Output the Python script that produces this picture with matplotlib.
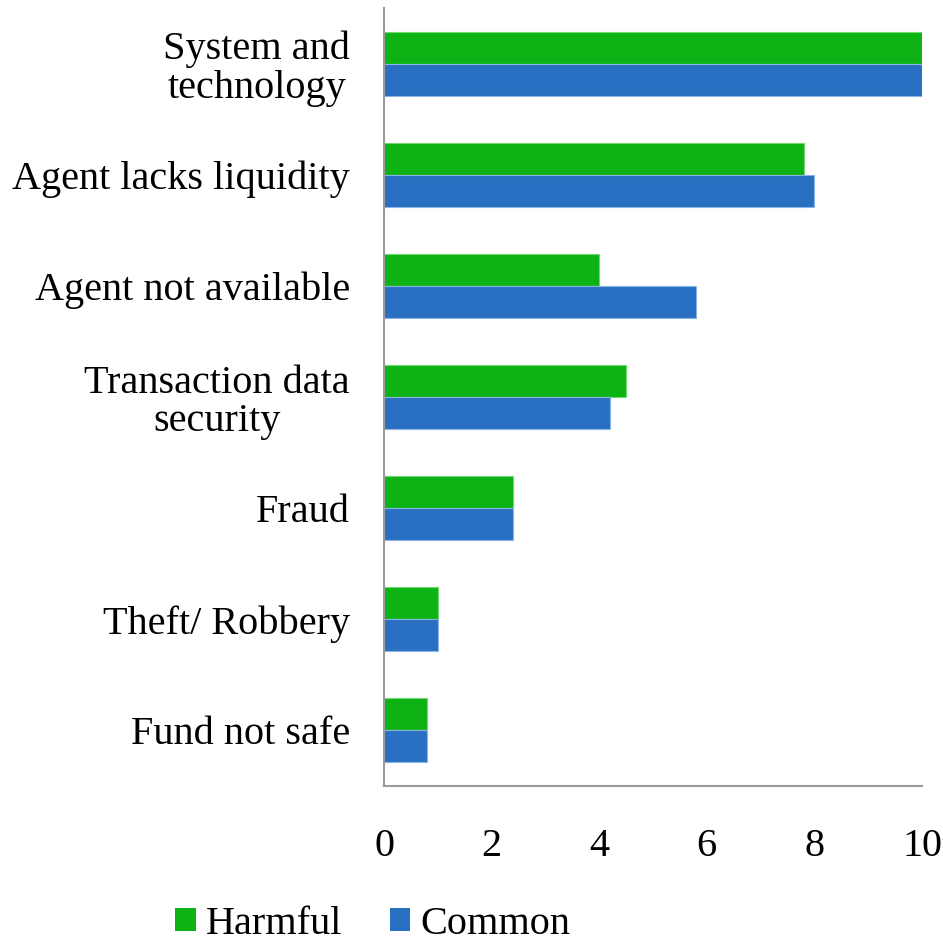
import matplotlib
matplotlib.use("Agg")
import matplotlib.pyplot as plt
import numpy as np
from matplotlib.patches import Patch

categories = ["System and\ntechnology", "Agent lacks liquidity", "Agent not available",
              "Transaction data\nsecurity", "Fraud", "Theft/ Robbery", "Fund not safe"]
harmful = [10, 7.8, 4.0, 4.5, 2.4, 1.0, 0.8]
common = [10, 8.0, 5.8, 4.2, 2.4, 1.0, 0.8]
xticks = [0, 2, 4, 6, 8, 10]

GREEN = "#0db214"
BLUE = "#2a70c2"
AXIS = "#9a9a9a"

plt.rcParams["font.family"] = ["Liberation Serif", "DejaVu Serif"]
fs = 29

fig = plt.figure(figsize=(9.43, 9.43), dpi=100)
ax = fig.add_axes([384 / 943, 1 - 786 / 943, (922 - 384) / 943, (786 - 8) / 943])

y = np.arange(len(categories))
h = 0.288
ax.barh(y - h / 2, harmful, height=h, color=GREEN, edgecolor="#6fd870", linewidth=0.8)
ax.barh(y + h / 2, common, height=h, color=BLUE, edgecolor="#8ab4e6", linewidth=0.8)

ax.set_ylim(len(categories) - 0.5, -0.5)
ax.set_xlim(0, 10)
ax.set_yticks(y)
ax.set_yticklabels(categories, fontsize=fs, multialignment="center", linespacing=1.05)
ax.set_xticks(xticks)
ax.set_xticklabels([str(t) for t in xticks], fontsize=fs)
ax.tick_params(axis="y", length=0, pad=24.5)
ax.tick_params(axis="x", length=0, pad=30)

for s in ["top", "right"]:
    ax.spines[s].set_visible(False)
for s in ["left", "bottom"]:
    ax.spines[s].set_color(AXIS)
    ax.spines[s].set_linewidth(1.5)

handles = [Patch(facecolor=GREEN, label="Harmful"), Patch(facecolor=BLUE, label="Common")]
fig.legend(handles=handles, loc="center", bbox_to_anchor=(373 / 943, 1 - 924 / 943),
           ncol=2, frameon=False, fontsize=fs, handlelength=0.5, handleheight=0.5,
           handletextpad=0.25, columnspacing=1.2, borderpad=0.2)

fig.savefig("out.png", dpi=100)
